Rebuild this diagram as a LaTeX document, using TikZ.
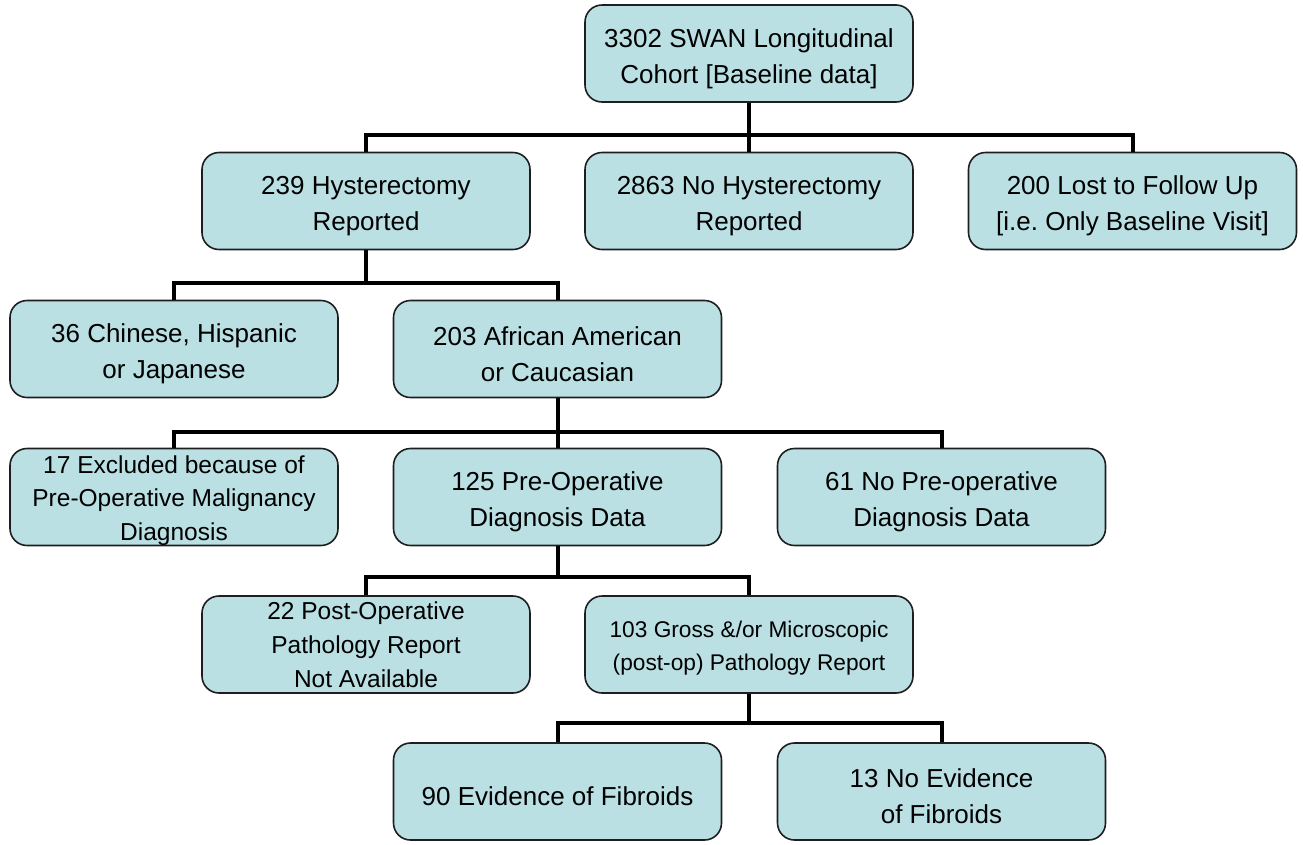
\documentclass[tikz,border=0pt]{standalone}
\usepackage{fontspec}
\setmainfont{Liberation Sans}
\frenchspacing
\definecolor{boxfill}{RGB}{186,224,228}
\definecolor{boxline}{RGB}{30,30,30}
\begin{document}
\begin{tikzpicture}[x=1pt,y=-1pt,
  box/.style={draw=boxline, line width=1.6pt, fill=boxfill, rounded corners=17pt,
    minimum width=328pt, minimum height=97pt, inner sep=0pt},
  lbl/.style={align=center, inner sep=0pt, yshift=-5pt, font=\fontsize{26}{36}\selectfont},
  lblsm/.style={lbl, yshift=1.5pt, font=\fontsize{24.5}{33.5}\selectfont},
  lblpost/.style={lbl, yshift=5pt, font=\fontsize{24.5}{34}\selectfont},
  lblxs/.style={lbl, yshift=1pt, font=\fontsize{22.7}{33}\selectfont},
  conn/.style={line width=4pt, black, line join=miter}]
\useasboundingbox (0,0) rectangle (1303,844);
\node[box] (top) at (749,53.5) {};
\node[lbl] (top-t) at (top.center) {3302 SWAN Longitudinal\\Cohort [Baseline data]};
\node[box] (hyst) at (366,201) {};
\node[lbl] (hyst-t) at (hyst.center) {239 Hysterectomy\\Reported};
\node[box] (nohyst) at (749,201) {};
\node[lbl] (nohyst-t) at (nohyst.center) {2863 No Hysterectomy\\Reported};
\node[box] (lost) at (1132.5,201) {};
\node[lbl] (lost-t) at (lost.center) {200 Lost to Follow Up\\{[i.e. Only Baseline Visit]}};
\node[box] (chin) at (174,349) {};
\node[lbl] (chin-t) at (chin.center) {36 Chinese, Hispanic\\or Japanese};
\node[box] (afr) at (557.5,349) {};
\node[lbl] (afr-t) at (afr.center) {203 African American\\or Caucasian};
\node[box] (excl) at (174,497) {};
\node[lblsm] (excl-t) at (excl.center) {17 Excluded because of\\Pre-Operative Malignancy\\Diagnosis};
\node[box] (pre) at (557.5,497) {};
\node[lbl] (pre-t) at (pre.center) {125 Pre-Operative\\Diagnosis Data};
\node[box] (nopre) at (941.5,497) {};
\node[lbl] (nopre-t) at (nopre.center) {61 No Pre-operative\\Diagnosis Data};
\node[box] (post) at (366,644.5) {};
\node[lblpost] (post-t) at (post.center) {22 Post-Operative\\Pathology Report\\Not Available};
\node[box] (gross) at (749,644.5) {};
\node[lblxs] (gross-t) at (gross.center) {103 Gross \&/or Microscopic\\(post-op) Pathology Report};
\node[box] (fib) at (557.5,791.5) {};
\node[lbl] (fib-t) at (fib.center) {90 Evidence of Fibroids};
\node[box] (nofib) at (941.5,791.5) {};
\node[lbl] (nofib-t) at (nofib.center) {13 No Evidence\\of Fibroids};
\coordinate (b1) at (749,135);
\coordinate (b2) at (366,283);
\coordinate (b3) at (557.5,432);
\coordinate (b4) at (557.5,577);
\coordinate (b5) at (749,723);
\draw[conn] (top.south) -- (b1) -| (hyst.north);
\draw[conn] (b1) -- (nohyst.north);
\draw[conn] (b1) -| (lost.north);
\draw[conn] (hyst.south) -- (b2) -| (chin.north);
\draw[conn] (b2) -| (afr.north);
\draw[conn] (afr.south) -- (b3) -| (excl.north);
\draw[conn] (b3) -- (pre.north);
\draw[conn] (b3) -| (nopre.north);
\draw[conn] (pre.south) -- (b4) -| (post.north);
\draw[conn] (b4) -| (gross.north);
\draw[conn] (gross.south) -- (b5) -| (fib.north);
\draw[conn] (b5) -| (nofib.north);
\end{tikzpicture}
\end{document}
